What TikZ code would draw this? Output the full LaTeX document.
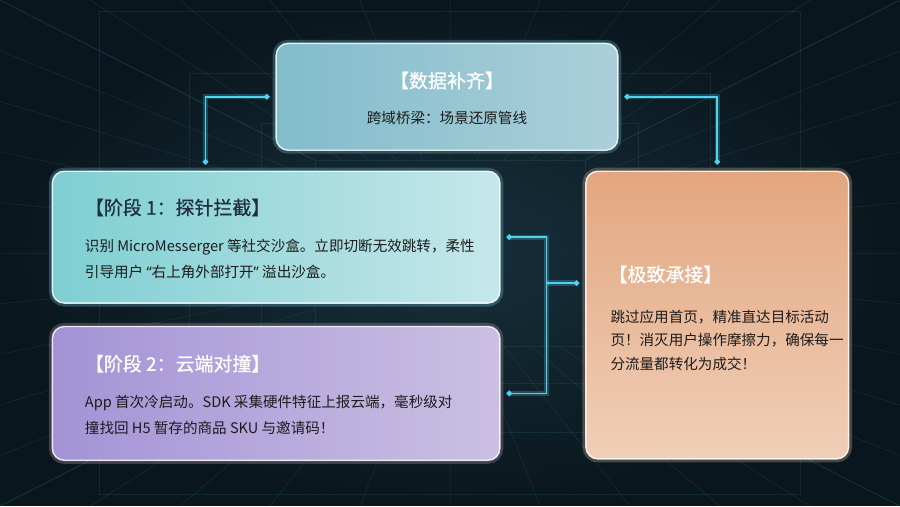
\documentclass[tikz,border=0pt]{standalone}
\usepackage{fontspec}
\setmainfont{Noto Sans CJK SC}
\newfontfamily\headfont{Noto Sans CJK SC}[FakeBold=0.7]
\newfontfamily\quotefont{Noto Sans}
\usetikzlibrary{positioning,arrows.meta,calc}

\definecolor{bgdark}{HTML}{0A161D}
\definecolor{bgmid}{HTML}{17303B}
\definecolor{gridc}{HTML}{3C8AA0}
\definecolor{wire}{HTML}{4FD3F2}
\definecolor{ink}{HTML}{1C1C1C}
\definecolor{headdark}{HTML}{1E3040}
\definecolor{topL}{HTML}{82BCCB}
\definecolor{topR}{HTML}{ABCFDA}
\definecolor{oneL}{HTML}{7ECFD2}
\definecolor{oneR}{HTML}{C6E7EA}
\definecolor{twoL}{HTML}{A393D6}
\definecolor{twoR}{HTML}{CBC0E3}
\definecolor{finT}{HTML}{E3A67F}
\definecolor{finB}{HTML}{F0CFB8}

\newcommand{\openq}{{\quotefont“}}
\newcommand{\closeq}{{\quotefont”}}

\begin{document}
\begin{tikzpicture}[
        x=0.02cm, y=-0.02cm,
        font=\fontsize{8.3}{15}\selectfont,
        card/.style={
            rounded corners=0.24cm,
            draw=white, draw opacity=0.85,
            line width=0.8pt, inner sep=0pt
        },
        glow/.style={
            preaction={draw=#1, line width=4pt, draw opacity=0.25}
        },
        head/.style={
            font=\headfont\fontsize{10.8}{12}\selectfont,
            inner sep=0pt
        },
        body/.style={
            text=ink, align=left,
            inner sep=0pt, anchor=north west
        },
        link/.style={
            draw=wire, line width=0.9pt,
            shorten <=0.12cm, shorten >=0.12cm,
            {Circle[length=3pt]}-{Circle[length=3pt]},
            preaction={draw=wire, line width=3pt, draw opacity=0.25}
        },
        gridline/.style={draw=gridc, line width=0.4pt, opacity=0.16}
    ]

    % Hintergrund
    \fill[inner color=bgmid, outer color=bgdark] (0,0) rectangle (900,506);
    \foreach \t in {0,0.1,...,1.01} {
        \draw[gridline] ({315+270*\t},160) -- ({900*\t},0);
        \draw[gridline] ({315+270*\t},346) -- ({900*\t},506);
        \draw[gridline] (315,{160+186*\t}) -- (0,{506*\t});
        \draw[gridline] (585,{160+186*\t}) -- (900,{506*\t});
    }
    \foreach \s in {0.3,0.42,0.58,0.78} {
        \draw[gridline] ({450-450*\s},{253-310*\s}) rectangle ({450+450*\s},{253+310*\s});
    }

    % Karten
    \node[card, glow=wire!70!white, left color=topL, right color=topR,
        minimum width=6.84cm, minimum height=2.14cm] (top) at (447,96.5) {};
    \node[card, glow=wire!70!white, left color=oneL, right color=oneR,
        minimum width=8.96cm, minimum height=2.64cm] (s1) at (276,237) {};
    \node[card, glow=violet!30!white, left color=twoL, right color=twoR,
        minimum width=8.96cm, minimum height=2.68cm, below=0.44cm of s1] (s2) {};
    \node[card, glow=orange!30!white, top color=finT, bottom color=finB,
        minimum width=5.26cm, minimum height=5.76cm] (fin) at (717.5,315) {};

    % Texte
    \node[head, text=white] (topHead) at ([yshift=-0.76cm]top.north) {【数据补齐】};
    \node[text=ink, inner sep=0pt] (topSub) at ([yshift=-1.5cm]top.north) {跨域桥梁：场景还原管线};

    \node[head, text=headdark, anchor=west] (s1Head)
        at ([shift={(0.66cm,-0.74cm)}]s1.north west) {【阶段 1：探针拦截】};
    \node[body] (s1Body) at ([shift={(0.66cm,-1.36cm)}]s1.north west)
        {识别 MicroMesserger 等社交沙盒。立即切断无效跳转，柔性\\
         引导用户 \openq 右上角外部打开\closeq{} 溢出沙盒。};

    \node[head, text=white, anchor=west] (s2Head)
        at ([shift={(0.66cm,-0.76cm)}]s2.north west) {【阶段 2：云端对撞】};
    \node[body] (s2Body) at ([shift={(0.66cm,-1.38cm)}]s2.north west)
        {App 首次冷启动。SDK 采集硬件特征上报云端，毫秒级对\\
         撞找回 H5 暂存的商品 SKU 与邀请码！};

    \node[head, text=white, anchor=west] (finHead)
        at ([shift={(0.46cm,-2.08cm)}]fin.north west) {【极致承接】};
    \node[body, font=\fontsize{8.3}{13.6}\selectfont] (finBody)
        at ([shift={(0.5cm,-2.78cm)}]fin.north west)
        {跳过应用首页，精准直达目标活动\\
         页！消灭用户操作摩擦力，确保每一\\
         分流量都转化为成交！};

    % Verbindungen
    \draw[link] (top.west) -| ([xshift=3.08cm]s1.north west);
    \draw[link] (top.east) -| (fin.north);
    \draw[link] (s1.east) -- ++(0.92cm,0) coordinate (bus) |- (s2.east);
    \coordinate (inlet) at ([yshift=0.64cm]fin.west);
    \draw[link, shorten <=0pt, -{Circle[length=3pt]}] (bus |- inlet) -- (inlet);

\end{tikzpicture}
\end{document}
